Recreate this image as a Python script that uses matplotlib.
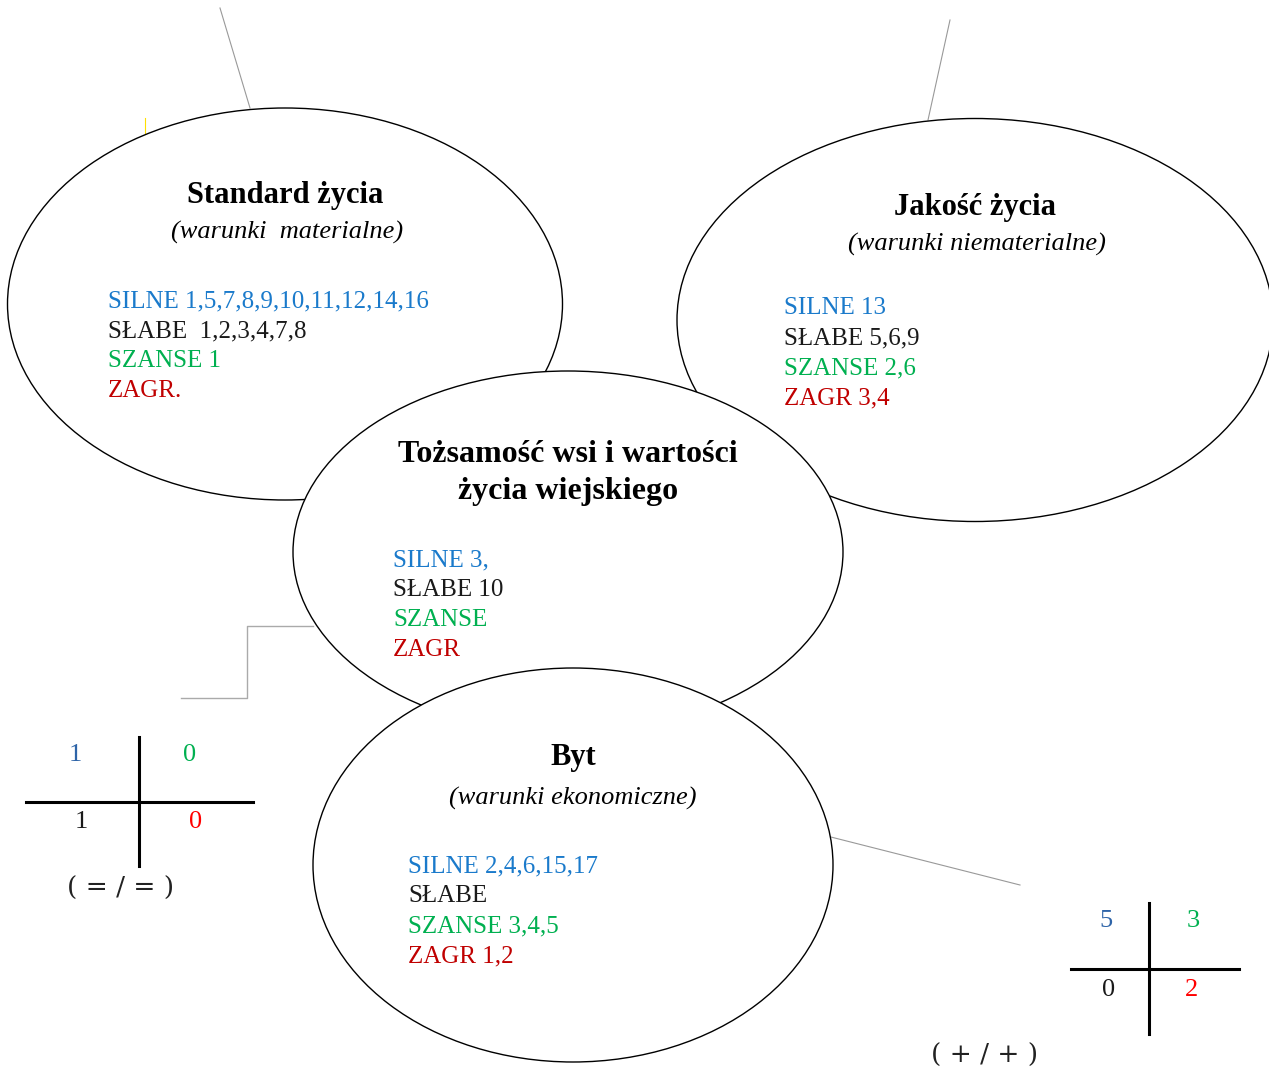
import matplotlib
matplotlib.use("Agg")
import matplotlib.pyplot as plt
from matplotlib.patches import Ellipse

# ---- data ----
titles = ["Standard życia", "Jakość życia", "Tożsamość wsi i wartości\nżycia wiejskiego", "Byt"]
subtitles = ["(warunki  materialne)", "(warunki niematerialne)", "", "(warunki ekonomiczne)"]
silne = ["SILNE 1,5,7,8,9,10,11,12,14,16", "SILNE 13", "SILNE 3,", "SILNE 2,4,6,15,17"]
slabe = ["SŁABE  1,2,3,4,7,8", "SŁABE 5,6,9", "SŁABE 10", "SŁABE"]
szanse = ["SZANSE 1", "SZANSE 2,6", "SZANSE", "SZANSE 3,4,5"]
zagr = ["ZAGR.", "ZAGR 3,4", "ZAGR", "ZAGR 1,2"]

left_table = ["1", "0", "1", "0"]
left_caption = "( = / = )"
right_table = ["5", "3", "0", "2"]
right_caption = "( + / + )"

# ---- layout (pixel coordinates) ----
W, H = 1269, 1069
ell_center = [(285, 304), (975, 320), (568, 552), (573, 865)]
ell_size = [(555, 392), (596, 403), (550, 362), (520, 394)]
title_pos = [(285, 195), (975, 207), (568, 454), (573, 757)]
title_size = [22, 22, 23, 22]
title_gap = 37
sub_pos = [(287, 232), (977, 244), None, (573, 798)]
list_pos = [(108, 301), (784, 308), (393, 560), (408, 866)]
line_gap = 30

BLUE = "#1a7acb"
GREEN = "#00b050"
RED = "#c00000"
TBLUE = "#2e64a8"
TRED = "#ff0000"

fig = plt.figure(figsize=(W / 100, H / 100), dpi=100)
ax = fig.add_axes([0, 0, 1, 1])
ax.set_xlim(0, W)
ax.set_ylim(H, 0)
ax.axis("off")

serif = ["Liberation Serif", "DejaVu Serif"]

# connector lines
gray = "#999999"
ax.plot([220, 250], [8, 108], color=gray, lw=0.8, zorder=0)
ax.plot([950, 928], [20, 120], color=gray, lw=0.8, zorder=0)
ax.plot([313, 247, 247, 181], [626, 626, 698, 698], color="#aaaaaa", lw=1.0, zorder=0)
ax.plot([823, 1020], [835, 885], color=gray, lw=0.8, zorder=0)
ax.plot([145, 145], [118, 136], color="#ffe000", lw=0.8, zorder=0)

for i in range(4):
    z = 2 + i * 2
    e = Ellipse(ell_center[i], ell_size[i][0], ell_size[i][1], facecolor="white",
                edgecolor="black", lw=1.0, zorder=z)
    ax.add_patch(e)
    tx, ty = title_pos[i]
    for j, part in enumerate(titles[i].split("\n")):
        ax.text(tx, ty + j * title_gap, part, ha="center", va="center", fontsize=title_size[i],
                fontweight="bold", family=serif, zorder=z + 1)
    if sub_pos[i] is not None and subtitles[i]:
        sx, sy = sub_pos[i]
        ax.text(sx, sy, subtitles[i], ha="center", va="center", fontsize=19, style="italic",
                family=serif, zorder=z + 1)
    lx, ly = list_pos[i]
    for k, (txt, col) in enumerate([(silne[i], BLUE), (slabe[i], "#1a1a1a"),
                                    (szanse[i], GREEN), (zagr[i], RED)]):
        ax.text(lx, ly + k * line_gap, txt, ha="left", va="center", fontsize=18,
                color=col, family=serif, zorder=z + 1)

# quadrant tables
def quad(vx, vy0, vy1, hy, hx0, hx1, vals, cells, caption, cap_pos):
    ax.plot([vx, vx], [vy0, vy1], color="black", lw=2.2, zorder=20)
    ax.plot([hx0, hx1], [hy, hy], color="black", lw=2.2, zorder=20)
    cols = [TBLUE, GREEN, "#1a1a1a", TRED]
    for v, (cx, cy), c in zip(vals, cells, cols):
        ax.text(cx, cy, v, ha="center", va="center", fontsize=19, color=c,
                family=serif, zorder=21)
    ax.text(cap_pos[0], cap_pos[1], caption, ha="center", va="center", fontsize=19,
            color="#222222", family=["DejaVu Serif"], zorder=21)

quad(139, 737, 866, 802, 26, 253, left_table,
     [(75, 755), (190, 755), (81, 822), (196, 822)], left_caption, (121, 888))
quad(1149, 903, 1034, 969, 1071, 1239, right_table,
     [(1106, 921), (1193, 921), (1109, 990), (1192, 990)], right_caption, (985, 1055))

fig.savefig("out.png", dpi=100, facecolor="white")
